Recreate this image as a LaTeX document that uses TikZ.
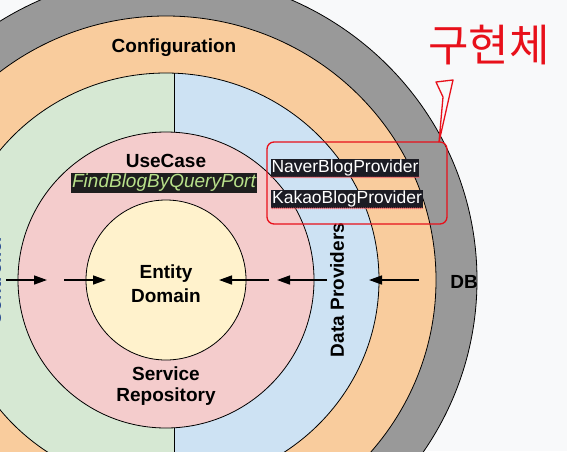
\documentclass[tikz,border=0pt]{standalone}
\usepackage{fontspec}
\setmainfont{Liberation Sans}
\newfontfamily\krfont{Noto Sans CJK KR}
\usetikzlibrary{arrows.meta,decorations.pathmorphing}
\definecolor{paper}{HTML}{F8F9FA}
\definecolor{ringgray}{HTML}{999999}
\definecolor{ringorange}{HTML}{F9CC9D}
\definecolor{ringgreen}{HTML}{D6E8D3}
\definecolor{ringblue}{HTML}{CDE2F3}
\definecolor{ringpink}{HTML}{F4CCCC}
\definecolor{ringyellow}{HTML}{FFF2CC}
\definecolor{portbg}{HTML}{1E1E1E}
\definecolor{portgreen}{HTML}{B8E08A}
\definecolor{provbg}{HTML}{1C1C24}
\definecolor{ctrlblue}{HTML}{1A3E8C}
\definecolor{pen}{HTML}{E8101A}

\begin{document}
\begin{tikzpicture}[x=1pt,y=-1pt,
  ring/.style={draw=black,line width=0.8pt},
  labelsty/.style={anchor=center,font=\fontsize{19}{22}\selectfont\bfseries},
  portsty/.style={fill=portbg,text=portgreen,inner sep=1pt,
    font=\fontsize{19}{22}\selectfont\itshape},
  provsty/.style={fill=provbg,text=white,inner sep=1pt,
    font=\fontsize{17.5}{20}\selectfont},
  wavy/.style={draw=pen!70,line width=0.4pt,decorate,
    decoration={snake,amplitude=0.6pt,segment length=2pt}},
  flow/.style={line width=1.5pt,-{Triangle[length=13pt,width=9pt]}},
  redpen/.style={draw=pen,line width=1.3pt,line cap=round,line join=round}]

  \useasboundingbox (0,0) rectangle (567,451);
  \fill[paper] (0,0) rectangle (567,451);
  \clip (0,0) rectangle (567,451);

  % rings
  \draw[ring,fill=ringgray] (166,280) ellipse [x radius=311,y radius=306];
  \draw[ring,fill=ringorange] (166,280) ellipse [x radius=270,y radius=264];
  \begin{scope}
    \clip (166,280) ellipse [x radius=213,y radius=207];
    \fill[ringgreen] (-60,40) rectangle (174,500);
    \fill[ringblue] (174,40) rectangle (400,500);
    \draw[line width=0.8pt] (174,40) -- (174,500);
  \end{scope}
  \draw[ring] (166,280) ellipse [x radius=213,y radius=207];
  \draw[ring,fill=ringpink] (166,280) circle [radius=148];
  \draw[ring,fill=ringyellow] (166,280) circle [radius=80];

  \draw node[labelsty] (conf) at (174,48) {Configuration};
  \draw node[labelsty] (usecase) at (166,161) {UseCase};
  \draw node[portsty] (port) at (164,183) {FindBlogByQueryPort};
  \draw node[labelsty] (entity) at (166,274) {Entity};
  \draw node[labelsty] (domain) at (166,296) {Domain};
  \draw node[labelsty] (service) at (166,374) {Service};
  \draw node[labelsty] (repo) at (166,397) {Repository};
  \draw node[labelsty,rotate=90] (data) at (337,290) {Data Providers};
  \draw node[labelsty] (db) at (464,282) {DB};
  \draw node[labelsty,rotate=90,text=ctrlblue] (ctrl) at (-6,280) {Controller};

  \draw node[provsty] (naver) at (345,168) {NaverBlogProvider};
  \draw node[provsty] (kakao) at (347,199) {KakaoBlogProvider};
  \draw[wavy] (naver.south west) -- (naver.south east);
  \draw[wavy] (kakao.south west) -- (kakao.south east);

  % dependency arrows
  \coordinate (a1) at (6,280);   \coordinate (b1) at (47,280);
  \coordinate (a2) at (64,280);  \coordinate (b2) at (106,280);
  \coordinate (a3) at (269,280); \coordinate (b3) at (219,280);
  \coordinate (a4) at (327,280); \coordinate (b4) at (277,280);
  \coordinate (a5) at (419,280); \coordinate (b5) at (369,280);
  \foreach \i in {1,...,5}
    \draw[flow] (a\i) -- (b\i);

  % hand written note
  \draw node[redpen,draw=none,text=pen,font=\krfont\fontsize{44}{48}\selectfont]
    (impl) at (489,45) {구현체};
  \draw node[redpen,rounded corners=7pt,minimum width=180,minimum height=82]
    (mark) at (357,183) {};
  \coordinate (pinfoot) at (439,142);
  \coordinate (pin) at (443,97);
  \draw[redpen] (pinfoot) -- (pin) -- (436,82) -- (453,80) -- cycle;

\end{tikzpicture}
\end{document}
